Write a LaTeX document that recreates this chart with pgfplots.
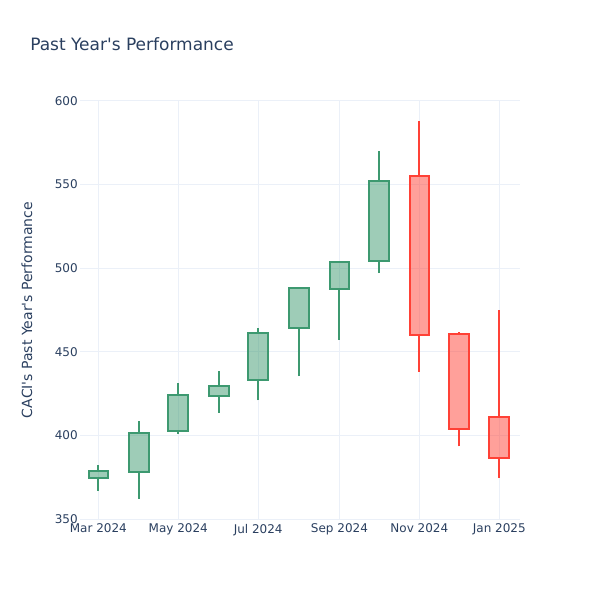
\documentclass[border=0pt]{standalone}
\usepackage{pgfplots}
\pgfplotsset{compat=1.18}
\usepackage{fontspec}
\setmainfont{DejaVu Sans}
\definecolor{inc}{HTML}{3D9970}
\definecolor{dec}{HTML}{FF4136}
\definecolor{txt}{HTML}{2A3F5F}
\definecolor{gridc}{HTML}{EBF0F8}
% one candle: x (days since 1 Mar 2024), low, body bottom, body top, high, colour
\newcommand{\candle}[6]{%
  \pgfmathsetmacro\xl{#1-7.5}\pgfmathsetmacro\xr{#1+7.5}%
  \addplot[draw=#6, line width=1.5pt] coordinates {(#1,#2) (#1,#3)};
  \addplot[draw=#6, line width=1.5pt] coordinates {(#1,#4) (#1,#5)};
  \addplot[draw=#6, fill=#6, fill opacity=0.5, line width=1.5pt, line join=miter]
    coordinates {(\xl,#3) (\xr,#3) (\xr,#4) (\xl,#4)} -- cycle;}
\begin{document}
\begin{tikzpicture}
\begin{axis}[
    at={(0,0)}, anchor=south west,
    scale only axis,
    width=330pt, height=313.5pt,
    xmin=-14, xmax=321.8,
    ymin=350, ymax=600,
    ytick={350,400,...,600},
    xtick={0,61,122,184,245,306},
    xticklabels={Mar 2024, May 2024, Jul 2024, Sep 2024, Nov 2024, Jan 2025},
    /pgf/number format/assume math mode=true,
    axis line style={draw=none},
    major tick length=0pt,
    grid=major,
    major grid style={color=gridc, line width=0.75pt},
    tick label style={font=\fontsize{9}{11}\selectfont, text=txt},
    yticklabel style={anchor=east, inner sep=0pt, xshift=-1.5pt},
    xticklabel style={anchor=north, inner sep=0pt, yshift=-3.5pt},
    ylabel={CACI\textquotesingle s Past Year\textquotesingle s Performance},
    ylabel style={at={(axis description cs:-0.1205,0.5)}, anchor=center,
      font=\fontsize{10.5}{12}\selectfont, text=txt},
    clip=false,
]
\candle{0}{367}{374.5}{378.5}{382}{inc}
\candle{31}{362}{378}{401.5}{408.5}{inc}
\candle{61}{401}{402.5}{424}{431.5}{inc}
\candle{92}{413.5}{423.5}{429.5}{438.5}{inc}
\candle{122}{421}{433}{461}{464}{inc}
\candle{153}{435.5}{464.5}{488}{488.3}{inc}
\candle{184}{457}{487.5}{504}{504.5}{inc}
\candle{214}{497}{504.5}{552}{570}{inc}
\candle{245}{438}{460}{555}{588}{dec}
\candle{275}{393.5}{404}{460.5}{462}{dec}
\candle{306}{374.5}{386.5}{411}{475}{dec}
\end{axis}
\node[anchor=west, inner sep=0pt, text=txt, font=\fontsize{12.75}{15}\selectfont]
  at (-37.5pt,356.25pt) {Past Year\textquotesingle s Performance};
\pgfresetboundingbox
\path[use as bounding box] (-60pt,-60.75pt) rectangle (390pt,389.25pt);
\end{tikzpicture}
\end{document}
